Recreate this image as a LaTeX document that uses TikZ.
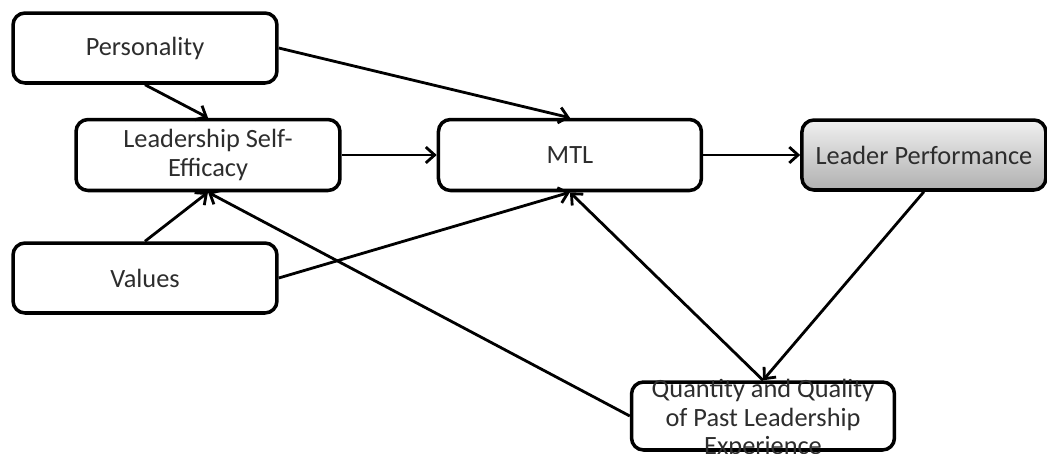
\documentclass[tikz,border=0pt]{standalone}
\usepackage{fontspec}
\setmainfont{Carlito}
\usetikzlibrary{arrows.meta, positioning}
\definecolor{txtgray}{RGB}{45,45,45}
\definecolor{lptop}{RGB}{240,240,240}
\definecolor{lpbottom}{RGB}{176,176,176}

\begin{document}
\begin{tikzpicture}[x=0.02cm, y=-0.02cm, >={Straight Barb[length=5pt,width=9pt]},
    box/.style={draw, rectangle, rounded corners=0.24cm, line width=2pt, minimum width=5.28cm, minimum height=1.42cm, align=center, fill=white, text=txtgray, font=\fontsize{15}{16}\selectfont},
    link/.style={->, line width=1.6pt}]
    \useasboundingbox (0,0) rectangle (1047,453);
    \node[box] (lse) at (208,155) {Leadership Self-\\Efficacy};
    \node[box, minimum width=5.26cm, right=1.9cm of lse] (mtl) {MTL};
    \node[box, minimum width=4.88cm, minimum height=1.4cm, top color=lptop, bottom color=lpbottom, right=1.94cm of mtl] (lp) {Leader Performance};
    \node[box, minimum height=1.4cm] (pers) at (145,48) {Personality};
    \node[box, minimum height=1.4cm] (val) at (145,278) {Values};
    \node[box, minimum width=5.26cm, minimum height=1.36cm] (qty) at (763,416) {};
    \node[align=center, text=txtgray, font=\fontsize{15}{16}\selectfont] (qtytext) at (763,419) {Quantity and Quality\\of Past Leadership\\Experience};

    \draw[link] (pers.south) -- (lse.north);
    \draw[link] (pers.east) -- (mtl.north);
    \draw[link] (lse) -- (mtl);
    \draw[link] (mtl) -- (lp);
    \draw[link] (val.north) -- (lse.south);
    \draw[link] (val.east) -- (mtl.south);
    \draw[link] (qty.west) -- (lse.south);
    \draw[link] (qty.north) -- (mtl.south);
    \draw[link] (lp.south) -- (qty.north);
\end{tikzpicture}
\end{document}
